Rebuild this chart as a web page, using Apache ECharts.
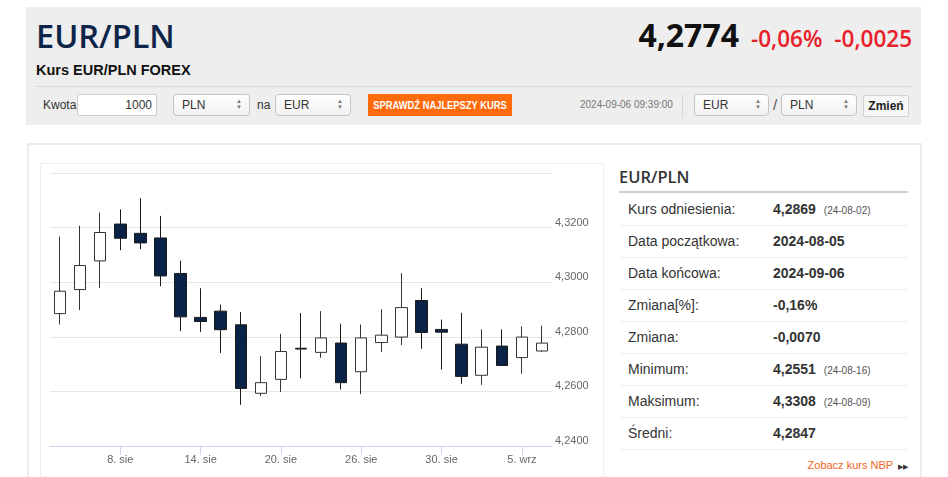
<!DOCTYPE html>
<html><head><meta charset="utf-8">
<script src="https://cdn.jsdelivr.net/npm/echarts@6/dist/echarts.min.js"></script>
<style>
html,body{margin:0;padding:0;background:#fff;width:948px;height:477px;overflow:hidden;font-family:Arial,"Liberation Sans",sans-serif;color:#333}
.abs{position:absolute;white-space:nowrap}
#top{left:26px;top:7px;width:895px;height:118px;background:#eeeeee}
.sel{position:absolute;height:20px;border:1px solid #c4c4c4;border-radius:4px;background:linear-gradient(#fff,#f1f1f1);font-size:12px;line-height:20px;box-sizing:content-box}
.sel span.t{position:absolute;left:8px;top:0}
.sel span.a{position:absolute;right:7px;top:3px;font-size:6px;line-height:6px;color:#777}
.lbl{position:absolute;left:628px;font-family:Arial,"Liberation Sans",sans-serif;font-size:14px;color:#333}
.val{position:absolute;left:773px;font-family:Arial,"Liberation Sans",sans-serif;font-size:14px;font-weight:700;color:#333}
.sm{font-weight:400;font-size:10px;color:#555;margin-left:8px}
.rowline{position:absolute;left:619px;width:289px;height:1px;background:#efefef}
</style></head>
<body>
<div id="top" class="abs"></div>
<div class="abs" style="left:36px;top:16px;font-family:'Open Sans',sans-serif;font-weight:600;font-size:32.5px;line-height:40px;color:#0d2548">EUR/PLN</div>
<div class="abs" style="left:36px;top:62px;font-weight:700;font-size:14.5px;line-height:16px;color:#111">Kurs EUR/PLN FOREX</div>
<div class="abs" style="left:35px;top:86px;width:877px;height:1px;background:#d9d9d9"></div>

<div class="abs" style="left:43px;top:98px;font-size:12px;line-height:14px;color:#333">Kwota</div>
<div class="abs" style="left:77px;top:94px;width:78px;height:20px;background:#fff;border:1px solid #ccc;border-radius:2px;font-size:12px;line-height:20px;text-align:right;padding-right:0"><span style="margin-right:4px">1000</span></div>
<div class="sel" style="left:173px;top:94px;width:75px"><span class="t">PLN</span><span class="a">▲<br>▼</span></div>
<div class="abs" style="left:257px;top:98px;font-size:12px;line-height:14px">na</div>
<div class="sel" style="left:275px;top:94px;width:74px"><span class="t">EUR</span><span class="a">▲<br>▼</span></div>
<div class="abs" style="left:368px;top:94px;width:144px;height:22px;background:#ff6a0d;color:#fff;font-size:11px;font-weight:700;line-height:22px;overflow:hidden"><span style="position:absolute;left:50%;top:0;transform:translateX(-50%) scaleX(0.85);transform-origin:center">SPRAWDŹ NAJLEPSZY KURS</span></div>

<div class="abs" style="left:580px;top:99px;font-size:10px;line-height:12px;color:#777">2024-09-06 09:39:00</div>
<div class="abs" style="left:682px;top:94px;width:1px;height:24px;background:#d6d6d6"></div>
<div class="sel" style="left:694px;top:94px;width:73px"><span class="t">EUR</span><span class="a">▲<br>▼</span></div>
<div class="abs" style="left:773px;top:96px;font-size:15px;line-height:18px;color:#555">/</div>
<div class="sel" style="left:781px;top:94px;width:74px"><span class="t">PLN</span><span class="a">▲<br>▼</span></div>
<div class="abs" style="left:863px;top:95px;width:44px;height:20px;background:#f6f6f6;border:1px solid #d0d0d0;border-radius:2px;font-size:12px;font-weight:700;line-height:20px;text-align:center;color:#222">Zmień</div>

<div class="abs" style="right:209px;top:14px;font-family:'Open Sans',sans-serif;font-weight:700;font-size:32px;line-height:42px;color:#111">4,2774</div>
<div class="abs" style="right:36px;top:23px;font-family:'Open Sans',sans-serif;font-weight:600;font-size:22.5px;line-height:32px;color:#e8202a">-0,06%<span style="margin-left:12px">-0,0025</span></div>

<div class="abs" style="left:27px;top:143px;width:891px;height:340px;border:2px solid #ececec;background:#fff"></div>
<div class="abs" style="left:40px;top:163px;width:562px;height:330px;border:1px solid #f0f0f0"></div>
<div id="chart" class="abs" style="left:40px;top:163px;width:563px;height:314px"></div>

<div class="abs" style="left:619px;top:165px;font-family:'Open Sans',sans-serif;font-weight:600;font-size:16.5px;line-height:24px;color:#333">EUR/PLN</div>
<div class="abs" style="left:619px;top:191px;width:289px;height:2px;background:#cfcfcf"></div>
<div id="table"></div>
<div class="abs" style="right:40px;top:458px;font-size:11px;line-height:14px;color:#f26522">Zobacz kurs NBP <span style="color:#333;font-size:7px;margin-left:2px">▶▶</span></div>

<script>
const dates = ['5. sie','6. sie','7. sie','8. sie','9. sie','12. sie','13. sie','14. sie','15. sie','16. sie','19. sie','20. sie','21. sie','22. sie','23. sie','26. sie','27. sie','28. sie','29. sie','30. sie','2. wrz','3. wrz','4. wrz','5. wrz','6. wrz'];
const openV  = [4.2885,4.2973,4.3078,4.3213,4.3179,4.3162,4.3032,4.2871,4.2894,4.2844,4.2593,4.2644,4.2758,4.2743,4.2777,4.2672,4.2779,4.2799,4.2933,4.2827,4.2773,4.2659,4.2766,4.2724,4.2748];
const closeV = [4.2967,4.3061,4.3182,4.3161,4.3144,4.3023,4.2873,4.2856,4.2826,4.2611,4.2632,4.2746,4.2755,4.2796,4.2632,4.2796,4.2806,4.2907,4.2816,4.2817,4.2655,4.2762,4.2695,4.2799,4.2777];
const lowV   = [4.2845,4.2898,4.2979,4.3117,4.3121,4.2985,4.2821,4.2818,4.2741,4.2551,4.2583,4.2598,4.2648,4.2723,4.2607,4.2590,4.2745,4.2770,4.2756,4.2680,4.2628,4.2624,4.2695,4.2665,4.2745];
const highV  = [4.3167,4.3207,4.3255,4.3267,4.3308,4.3243,4.3079,4.2978,4.2918,4.2891,4.2729,4.2811,4.2887,4.2894,4.2848,4.2845,4.2901,4.3033,4.2978,4.2863,4.2888,4.2827,4.2827,4.2838,4.2841];
const yTicks = [4.24,4.26,4.28,4.30,4.32,4.34];

const tableLabels = ['Kurs odniesienia:','Data początkowa:','Data końcowa:','Zmiana[%]:','Zmiana:','Minimum:','Maksimum:','Średni:'];
const tableValues = ['4,2869','2024-08-05','2024-09-06','-0,16%','-0,0070','4,2551','4,3308','4,2847'];
const tableNotes  = ['(24-08-02)','','','','','(24-08-16)','(24-08-09)',''];

let html='';
for(let i=0;i<tableLabels.length;i++){
  const cy = 209 + i*32;
  html += '<div class="lbl" style="top:'+(cy-10)+'px;line-height:20px">'+tableLabels[i]+'</div>';
  html += '<div class="val" style="top:'+(cy-10)+'px;line-height:20px">'+tableValues[i]+(tableNotes[i]?'<span class="sm">'+tableNotes[i]+'</span>':'')+'</div>';
  html += '<div class="rowline" style="top:'+(cy+16)+'px"></div>';
}
document.getElementById('table').innerHTML = html;

const data = dates.map((d,i)=>[openV[i],closeV[i],lowV[i],highV[i]]);
const showIdx = (i)=> i>=3 && (i-3)%4===0;

const chart = echarts.init(document.getElementById('chart'),null,{renderer:'canvas'});
chart.setOption({
  animation:false,
  grid:{left:10,right:51,top:10,bottom:31},
  xAxis:{
    type:'category', data:dates, boundaryGap:true,
    axisLine:{lineStyle:{color:'#ccd6eb',width:1}},
    axisTick:{show:true,alignWithLabel:true,interval:(i)=>showIdx(i),length:9,lineStyle:{color:'#ccd6eb'}},
    axisLabel:{interval:(i)=>showIdx(i),color:'#666',fontSize:11,margin:8,fontFamily:'Arial'},
    splitLine:{show:false}
  },
  yAxis:{
    type:'value', position:'right', min:yTicks[0], max:yTicks[yTicks.length-1], interval:0.02,
    axisLine:{show:false}, axisTick:{show:false},
    axisLabel:{color:'#666',fontSize:11,fontFamily:'Arial',margin:3,verticalAlign:'bottom',lineHeight:10,showMaxLabel:false,
      formatter:(v)=>v.toFixed(4).replace('.',',')},
    splitLine:{lineStyle:{color:'#e6e6e6',width:1}}
  },
  series:[{
    type:'candlestick', data:data, barWidth:12,
    itemStyle:{color:'#ffffff',color0:'#0a2246',borderColor:'#333333',borderColor0:'#1a1a1a',borderWidth:1}
  }]
});
</script>
</body></html>
